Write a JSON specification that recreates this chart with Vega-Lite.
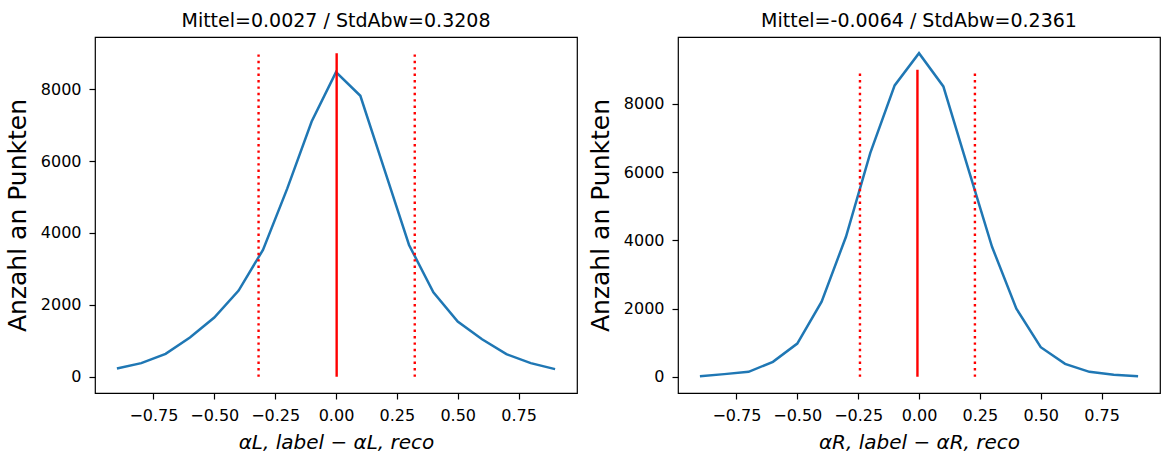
{
  "$schema": "https://vega.github.io/schema/vega-lite/v6.json",
  "padding": {"left": 4, "top": 11, "right": 0, "bottom": 0},
  "spacing": 101,
  "bounds": "flush",
  "config": {
    "font": "DejaVu Sans",
    "view": {"stroke": "#000000", "strokeWidth": 1.2},
    "axis": {
      "grid": false, "domain": false,
      "tickColor": "#000000", "tickSize": 6, "tickWidth": 1.2,
      "labelFont": "DejaVu Sans", "labelFontSize": 16, "labelColor": "#000000", "labelPadding": 8,
      "titleFont": "DejaVu Sans", "titleFontSize": 25, "titleFontWeight": "normal", "titleColor": "#000000"
    },
    "title": {"fontSize": 19, "fontWeight": "normal", "font": "DejaVu Sans", "color": "#000000", "offset": 6}
  },
  "hconcat": [
    {
      "width": 482, "height": 356,
      "title": "Mittel=0.0027 / StdAbw=0.3208",
      "layer": [
        {
          "data": {"values": [
            {"x": -0.9, "count": 230}, {"x": -0.8, "count": 380}, {"x": -0.7, "count": 639},
            {"x": -0.6, "count": 1092}, {"x": -0.5, "count": 1648}, {"x": -0.4, "count": 2398},
            {"x": -0.3, "count": 3530}, {"x": -0.2, "count": 5240}, {"x": -0.1, "count": 7100},
            {"x": 0.0, "count": 8472}, {"x": 0.1, "count": 7815}, {"x": 0.2, "count": 5740},
            {"x": 0.3, "count": 3667}, {"x": 0.4, "count": 2352}, {"x": 0.5, "count": 1537},
            {"x": 0.6, "count": 1046}, {"x": 0.7, "count": 630}, {"x": 0.8, "count": 380},
            {"x": 0.9, "count": 213}
          ]},
          "mark": {"type": "line", "color": "#1f77b4", "strokeWidth": 2.5},
          "encoding": {
            "x": {"field": "x", "type": "quantitative",
                  "scale": {"domain": [-0.99, 0.99], "nice": false, "zero": false},
                  "axis": {"values": [-0.75, -0.5, -0.25, 0, 0.25, 0.5, 0.75], "format": ".2f",
                           "titleFontSize": 20, "titleFontStyle": "italic", "titlePadding": 9},
                  "title": "αL, label − αL, reco"},
            "y": {"field": "count", "type": "quantitative",
                  "scale": {"domain": [-450, 9450], "nice": false, "zero": false},
                  "axis": {"values": [0, 2000, 4000, 6000, 8000], "format": "d", "titlePadding": 10},
                  "title": "Anzahl an Punkten"}
          }
        },
        {
          "data": {"values": [{"pos": 0.0027, "lo": 0, "hi": 9000}]},
          "mark": {"type": "rule", "color": "#ff0000", "strokeWidth": 2.4},
          "encoding": {
            "x": {"field": "pos", "type": "quantitative"},
            "y": {"field": "lo", "type": "quantitative"},
            "y2": {"field": "hi"}
          }
        },
        {
          "data": {"values": [{"pos": -0.3181, "lo": 0, "hi": 9000}, {"pos": 0.3235, "lo": 0, "hi": 9000}]},
          "mark": {"type": "rule", "color": "#ff0000", "strokeWidth": 2.4, "strokeDash": [2.4, 4]},
          "encoding": {
            "x": {"field": "pos", "type": "quantitative"},
            "y": {"field": "lo", "type": "quantitative"},
            "y2": {"field": "hi"}
          }
        }
      ]
    },
    {
      "width": 482, "height": 356,
      "title": "Mittel=-0.0064 / StdAbw=0.2361",
      "layer": [
        {
          "data": {"values": [
            {"x": -0.9, "count": 20}, {"x": -0.8, "count": 79}, {"x": -0.7, "count": 146},
            {"x": -0.6, "count": 439}, {"x": -0.5, "count": 974}, {"x": -0.4, "count": 2202},
            {"x": -0.3, "count": 4103}, {"x": -0.2, "count": 6559}, {"x": -0.1, "count": 8538},
            {"x": 0.0, "count": 9483}, {"x": 0.1, "count": 8509}, {"x": 0.2, "count": 6150},
            {"x": 0.3, "count": 3810}, {"x": 0.4, "count": 1997}, {"x": 0.5, "count": 868},
            {"x": 0.6, "count": 380}, {"x": 0.7, "count": 146}, {"x": 0.8, "count": 58},
            {"x": 0.9, "count": 20}
          ]},
          "mark": {"type": "line", "color": "#1f77b4", "strokeWidth": 2.5},
          "encoding": {
            "x": {"field": "x", "type": "quantitative",
                  "scale": {"domain": [-0.99, 0.99], "nice": false, "zero": false},
                  "axis": {"values": [-0.75, -0.5, -0.25, 0, 0.25, 0.5, 0.75], "format": ".2f",
                           "titleFontSize": 20, "titleFontStyle": "italic", "titlePadding": 9},
                  "title": "αR, label − αR, reco"},
            "y": {"field": "count", "type": "quantitative",
                  "scale": {"domain": [-474, 9956], "nice": false, "zero": false},
                  "axis": {"values": [0, 2000, 4000, 6000, 8000], "format": "d", "titlePadding": 10},
                  "title": "Anzahl an Punkten"}
          }
        },
        {
          "data": {"values": [{"pos": -0.0064, "lo": 0, "hi": 9000}]},
          "mark": {"type": "rule", "color": "#ff0000", "strokeWidth": 2.4},
          "encoding": {
            "x": {"field": "pos", "type": "quantitative"},
            "y": {"field": "lo", "type": "quantitative"},
            "y2": {"field": "hi"}
          }
        },
        {
          "data": {"values": [{"pos": -0.2425, "lo": 0, "hi": 9000}, {"pos": 0.2297, "lo": 0, "hi": 9000}]},
          "mark": {"type": "rule", "color": "#ff0000", "strokeWidth": 2.4, "strokeDash": [2.4, 4]},
          "encoding": {
            "x": {"field": "pos", "type": "quantitative"},
            "y": {"field": "lo", "type": "quantitative"},
            "y2": {"field": "hi"}
          }
        }
      ]
    }
  ]
}
